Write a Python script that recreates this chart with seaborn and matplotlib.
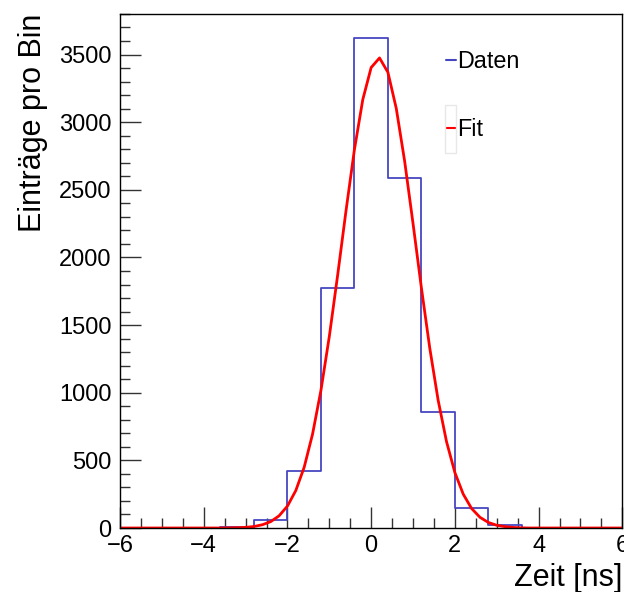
import numpy as np
import pandas as pd
import matplotlib
matplotlib.use('Agg')
import matplotlib.pyplot as plt
from matplotlib.ticker import MultipleLocator
from matplotlib.patches import Rectangle
import seaborn as sns

# ============================================================
# Data
# ============================================================
BIN_EDGES = [-6.0, -5.2, -4.4, -3.6, -2.8, -2.0, -1.2, -0.4, 0.4, 1.2, 2.0, 2.8, 3.6, 4.4, 5.2, 6.0]
BIN_COUNTS = [0, 0, 0, 7, 57, 423, 1777, 3619, 2591, 855, 150, 20, 0, 0, 0]

FIT_X = [-6.0, -3.6, -3.4, -3.2, -3.0, -2.8, -2.6, -2.4, -2.2, -2.0, -1.8, -1.6, -1.4,
         -1.2, -1.0, -0.8, -0.6, -0.4, -0.2, 0.0, 0.2, 0.4, 0.6, 0.8, 1.0, 1.2,
         1.4, 1.6, 1.8, 2.0, 2.2, 2.4, 2.6, 2.8, 3.0, 3.2, 3.4, 3.6, 3.8, 6.0]
FIT_Y = [0, 0, 1, 2, 5, 11, 24, 47, 90, 162, 277, 449, 694,
         1017, 1415, 1870, 2347, 2797, 3167, 3404, 3475, 3369, 3102, 2712, 2252, 1776,
         1330, 945, 639, 410, 250, 144, 79, 41, 20, 10, 4, 1, 0, 0]

X_LABEL = 'Zeit [ns]'
Y_LABEL = 'Einträge pro Bin'

# ============================================================
# Style
# ============================================================
sns.set_style('ticks')
plt.rcParams['font.family'] = ['Liberation Sans', 'DejaVu Sans']
plt.rcParams['text.color'] = 'black'
plt.rcParams['axes.labelcolor'] = 'black'
plt.rcParams['xtick.labelcolor'] = 'black'
plt.rcParams['ytick.labelcolor'] = 'black'

fig = plt.figure(figsize=(6.24, 5.92), dpi=100)
ax = fig.add_axes([0.1923, 0.1081, 0.805, 0.8683])

centers = [(a + b) / 2 for a, b in zip(BIN_EDGES[:-1], BIN_EDGES[1:])]
hist_df = pd.DataFrame({'t': centers, 'n': BIN_COUNTS})
sns.histplot(data=hist_df, x='t', weights='n', bins=BIN_EDGES, element='step',
             fill=False, color='#4646c0', linewidth=1.3, ax=ax, label='Daten')

fit_df = pd.DataFrame({'t': FIT_X, 'f': FIT_Y})
sns.lineplot(data=fit_df, x='t', y='f', color='#ff0000', linewidth=2.0, ax=ax, label='Fit')

ax.set_xlim(-6, 6)
ax.set_ylim(0, 3800)
ax.xaxis.set_major_locator(MultipleLocator(2))
ax.xaxis.set_minor_locator(MultipleLocator(0.5))
ax.yaxis.set_major_locator(MultipleLocator(500))
ax.yaxis.set_minor_locator(MultipleLocator(100))
ax.tick_params(which='both', direction='in', top=False, right=False, labelsize=17,
               width=1, color='#333333')
ax.tick_params(axis='x', pad=5)
ax.tick_params(axis='y', pad=6)
ax.tick_params(which='major', length=15)
ax.tick_params(which='minor', length=7.5)
for s in ax.spines.values():
    s.set_visible(True)
    s.set_color('black')
    s.set_linewidth(1)

ax.set_xlabel(X_LABEL, fontsize=22, loc='right', labelpad=4)
ax.set_ylabel(Y_LABEL, fontsize=22, loc='top', labelpad=8)

leg = ax.legend(loc='upper left', bbox_to_anchor=(0.607, 0.97), frameon=False,
                fontsize=16.8, handlelength=0.45, handletextpad=0.05,
                labelspacing=1.9)
for h in leg.legend_handles:
    h.set_linewidth(1.5)

# faint box around the Fit marker, as in the reference
fig.patches.append(Rectangle((445 / 624, 1 - 153 / 592), 11 / 624, 48 / 592,
                             transform=fig.transFigure, fill=False,
                             edgecolor='#e8e8e8', linewidth=1))

fig.savefig('out.png', dpi=100)
